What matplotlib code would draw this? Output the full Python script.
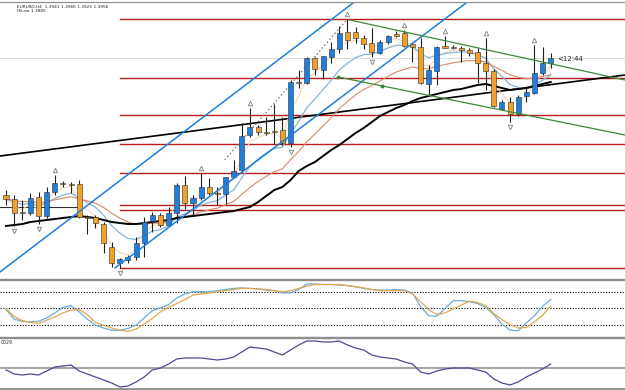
import numpy as np
import matplotlib
matplotlib.use('Agg')
import matplotlib.pyplot as plt
from matplotlib.lines import Line2D

# ---------------- data (EURUSD H4) ----------------
opens = [1.3819, 1.3815, 1.3802, 1.3801, 1.3817, 1.3798, 1.3822, 1.3831, 1.3830, 1.3830,
         1.3797, 1.3797, 1.3790, 1.3767, 1.3751, 1.3754, 1.3757, 1.3771, 1.3793, 1.3799,
         1.3789, 1.3801, 1.3829, 1.3811, 1.3816, 1.3827, 1.3821, 1.3820, 1.3837, 1.3844,
         1.3879, 1.3887, 1.3882, 1.3882, 1.3884, 1.3871, 1.3932, 1.3931, 1.3956, 1.3944,
         1.3957, 1.3965, 1.3982, 1.3982, 1.3976, 1.3971, 1.3961, 1.3972, 1.3980, 1.3981,
         1.3970, 1.3967, 1.3930, 1.3943, 1.3968, 1.3967, 1.3966, 1.3964, 1.3962, 1.3951,
         1.3943, 1.3905, 1.3912, 1.3900, 1.3918, 1.3921, 1.3941, 1.3951]
highs = [1.3824, 1.3819, 1.3814, 1.3821, 1.3822, 1.3827, 1.3839, 1.3833, 1.3832, 1.3834,
         1.3799, 1.3799, 1.3792, 1.3772, 1.3756, 1.3759, 1.3777, 1.3797, 1.3802, 1.3801,
         1.3807, 1.3831, 1.3838, 1.3819, 1.3841, 1.3836, 1.3827, 1.3837, 1.3854, 1.3891,
         1.3906, 1.3889, 1.3897, 1.3910, 1.3897, 1.3934, 1.3944, 1.3957, 1.3957, 1.3958,
         1.3972, 1.3988, 1.3995, 1.3987, 1.3979, 1.3986, 1.3974, 1.3979, 1.3983, 1.3984,
         1.3972, 1.3976, 1.3949, 1.3968, 1.3978, 1.3969, 1.3968, 1.3966, 1.3966, 1.3976,
         1.3945, 1.3914, 1.3917, 1.3919, 1.3927, 1.3969, 1.3967, 1.3961]
lows = [1.3809, 1.3788, 1.3794, 1.3799, 1.3790, 1.3796, 1.3819, 1.3827, 1.3821, 1.3796,
        1.3780, 1.3786, 1.3761, 1.3747, 1.3746, 1.3751, 1.3754, 1.3757, 1.3782, 1.3787,
        1.3788, 1.3791, 1.3805, 1.3799, 1.3814, 1.3819, 1.3809, 1.3810, 1.3836, 1.3842,
        1.3877, 1.3879, 1.3879, 1.3870, 1.3869, 1.3867, 1.3926, 1.3930, 1.3939, 1.3935,
        1.3951, 1.3961, 1.3965, 1.3971, 1.3965, 1.3957, 1.3960, 1.3970, 1.3977, 1.3967,
        1.3952, 1.3930, 1.3919, 1.3929, 1.3966, 1.3965, 1.3952, 1.3958, 1.3931, 1.3924,
        1.3907, 1.3904, 1.3892, 1.3898, 1.3912, 1.3920, 1.3939, 1.3946]
closes = [1.3815, 1.3801, 1.3801, 1.3816, 1.3798, 1.3822, 1.3831, 1.3830, 1.3829, 1.3797,
          1.3796, 1.3791, 1.3771, 1.3751, 1.3755, 1.3757, 1.3771, 1.3792, 1.3799, 1.3789,
          1.3801, 1.3829, 1.3811, 1.3816, 1.3827, 1.3821, 1.3820, 1.3837, 1.3843, 1.3878,
          1.3887, 1.3882, 1.3881, 1.3882, 1.3871, 1.3932, 1.3931, 1.3956, 1.3945, 1.3958,
          1.3965, 1.3981, 1.3974, 1.3976, 1.3970, 1.3962, 1.3972, 1.3978, 1.3978, 1.3968,
          1.3967, 1.3931, 1.3944, 1.3967, 1.3966, 1.3966, 1.3964, 1.3961, 1.3951, 1.3943,
          1.3908, 1.3912, 1.3900, 1.3917, 1.3922, 1.3941, 1.3951, 1.3956]

# slow moving average (black)
ma_slow = [1.3788, 1.3789, 1.3790, 1.3792, 1.3793, 1.3794, 1.3795, 1.3796, 1.3797, 1.3798,
           1.3797, 1.3796, 1.3794, 1.3792, 1.3791, 1.3790, 1.3790, 1.3791, 1.3792, 1.3793,
           1.3794, 1.3796, 1.3797, 1.3798, 1.3799, 1.3800, 1.3801, 1.3802, 1.3803, 1.3805,
           1.3807, 1.3812, 1.3818, 1.3824, 1.3827, 1.3834, 1.3843, 1.3848, 1.3852, 1.3858,
           1.3864, 1.3869, 1.3875, 1.3881, 1.3886, 1.3892, 1.3898, 1.3902, 1.3906, 1.3909,
           1.3913, 1.3916, 1.3918, 1.3920, 1.3922, 1.3924, 1.3925, 1.3927, 1.3929, 1.3930,
           1.3928, 1.3926, 1.3924, 1.3925, 1.3926, 1.3928, 1.3930, 1.3932]

up_fractals = [6, 24, 30, 42, 49, 54, 59, 65]
down_fractals = [1, 4, 14, 35, 45, 62]

levels = [1.3995, 1.3936, 1.3899, 1.3870, 1.3841, 1.3809, 1.3804, 1.3746]

# stochastic (%K blue, %D orange)
stoch_k = [48, 31, 27, 26, 27, 33, 42, 52, 55, 44, 31, 20, 15, 11, 11, 14, 20, 33, 46, 51,
           57, 69, 76, 80, 80, 80, 82, 84, 86, 87, 86, 85, 83, 82, 78, 78, 84, 94, 94, 93,
           93, 92, 91, 89, 86, 84, 83, 83, 84, 83, 78, 53, 37, 36, 50, 64, 64, 62, 59, 52,
           39, 22, 11, 10, 24, 37, 54, 66]
stoch_d = [50, 36, 28, 25, 23, 29, 35, 42, 47, 48, 39, 25, 20, 15, 11, 9, 13, 22, 32, 44,
           52, 59, 66, 74, 76, 78, 80, 82, 84, 86, 86, 85, 84, 82, 80, 82, 86, 90, 93, 93,
           93, 93, 91, 89, 87, 84, 82, 82, 82, 82, 76, 62, 48, 39, 42, 49, 56, 63, 61, 55,
           41, 30, 21, 15, 16, 26, 38, 54]
stoch_levels = [20, 50, 80]

# lower oscillator
osc = [-0.0002, -0.0006, -0.0007, -0.0006, -0.0007, -0.0003, 0.0001, 0.0002, 0.0003, -0.0003,
       -0.0006, -0.0009, -0.0012, -0.0015, -0.0019, -0.0018, -0.0014, -0.0009, -0.0002, 0.0000,
       0.0004, 0.0009, 0.0010, 0.0010, 0.0010, 0.0009, 0.0008, 0.0009, 0.0011, 0.0016,
       0.0021, 0.0020, 0.0019, 0.0016, 0.0013, 0.0018, 0.0023, 0.0027, 0.0027, 0.0026,
       0.0026, 0.0027, 0.0023, 0.0020, 0.0018, 0.0013, 0.0011, 0.0010, 0.0009, 0.0006,
       0.0004, -0.0004, -0.0006, -0.0003, -0.0001, 0.0000, 0.0000, 0.0000, -0.0002, -0.0004,
       -0.0011, -0.0015, -0.0017, -0.0014, -0.0009, -0.0005, -0.0001, 0.0004]

title_line1 = "EURUSD,H4  1.3941 1.3966 1.3925 1.3956"
title_line2 = "HiLow 1.3885"
timer_label = "<12:44"
osc_label = "0029"

# ---------------- figure ----------------
W, H = 625, 390
fig = plt.figure(figsize=(W / 100, H / 100), dpi=100)
fig.patch.set_facecolor('white')


def ax_at(top_px, bot_px):
    a = fig.add_axes([0, 1 - bot_px / H, 1, (bot_px - top_px) / H])
    a.set_axis_off()
    return a


ax = ax_at(3, 279)
ax_st = ax_at(281, 337)
ax_lo = ax_at(338, 389)

n = len(closes)
idx = np.arange(n)
xl = (-0.74, 76.14)
for a in (ax, ax_st, ax_lo):
    a.set_xlim(*xl)

ax.set_ylim(1.3735, 1.4011)
ax_st.set_ylim(-1.2, 99.3)
ax_lo.set_ylim(-0.0021, 0.0030)

o = np.array(opens); h = np.array(highs); l = np.array(lows); c = np.array(closes)


def ema(vals, period):
    k = 2 / (period + 1)
    out = [vals[0]]
    for v in vals[1:]:
        out.append(out[-1] + k * (v - out[-1]))
    return np.array(out)


# horizontal levels (dark red)
for lv in levels:
    ax.plot([14, xl[1]], [lv, lv], color='#b81c1c', lw=1.0, zorder=1)
# short dark line on the left
ax.plot([xl[0], 9.1], [1.3807, 1.3807], color='#303030', lw=0.8, zorder=1)
# bid line
ax.axhline(closes[-1], color='#dcdcdc', lw=0.7, zorder=0.5)

# trend line (black)
ax.plot([xl[0], xl[1]], [1.3858, 1.3939], color='black', lw=1.2, zorder=2)
# blue channel
ax.plot([-0.74, 43.17], [1.3742, 1.4014], color='#1f7fd8', lw=1.1, zorder=4)
ax.plot([13.4, 57.07], [1.3746, 1.4014], color='#1f7fd8', lw=1.1, zorder=4)
# green channel
ax.plot([42.3, 76.14], [1.3994, 1.3934], color='#3a8a3a', lw=0.9, zorder=4)
ax.plot([40.84, 76.14], [1.3937, 1.3879], color='#3a8a3a', lw=0.9, zorder=4)
ax.plot([40.84, 46.3], [1.3937, 1.3928], 'o', ms=1.8, color='#3a8a3a', zorder=4)
# dotted line
ax.plot([26.9, 41.9], [1.3854, 1.3994], color='#707070', lw=0.8, ls=(0, (1.5, 2)), zorder=2)

# moving averages
ax.plot(idx, ema(c, 3), color='#f5d2b0', lw=0.7, zorder=2)
ax.plot(idx, ema(c, 8), color='#85b6d8', lw=0.9, zorder=2)
ax.plot(idx, ema(c, 18), color='#d9886a', lw=0.8, zorder=2)
ax.plot(idx, ma_slow, color='black', lw=1.4, zorder=2)

# candles
for i in range(n):
    ax.vlines(i, l[i], h[i], color='#202020', lw=0.8, zorder=3)
    bot = min(o[i], c[i])
    ht = max(abs(c[i] - o[i]), 0.00012)
    col = '#1e7fe0' if c[i] > o[i] else '#f4a028'
    ax.bar(i, ht, bottom=bot, width=0.62, color=col, edgecolor='#303030', lw=0.4, zorder=3.5)

# fractals
ax.plot(up_fractals, h[up_fractals] + 0.0005, ls='none', marker='^', ms=3.2,
        mfc='none', mec='#8c8c8c', mew=0.7, zorder=5)
ax.plot(down_fractals, l[down_fractals] - 0.0005, ls='none', marker='v', ms=3.2,
        mfc='none', mec='#8c8c8c', mew=0.7, zorder=5)

ax.text(n - 1 + 0.75, closes[-1] - 0.0001, timer_label, fontsize=5, color='#202020',
        va='center', ha='left', zorder=6)

# titles
fig.text(17 / W, 1 - 7 / H, title_line1, fontsize=3.1, color='#202020', va='center', ha='left')
fig.text(17 / W, 1 - 11.5 / H, title_line2, fontsize=3.1, color='#202020', va='center', ha='left')

# stochastic
for lv in stoch_levels:
    ax_st.axhline(lv, color='black', lw=0.8, ls=(0, (1, 1.5)))
ax_st.plot(idx, stoch_k, color='#6aaed6', lw=0.9)
ax_st.plot(idx, stoch_d, color='#e0a850', lw=0.9)

# lower oscillator
ax_lo.axhline(0, color='#a8a8a8', lw=1.5)
ax_lo.plot(idx, osc, color='#4a4a96', lw=0.9)
fig.text(1 / W, 1 - 342 / H, osc_label, fontsize=3.4, color='#303030', va='center', ha='left')

# panel separators
for ypx, lw in [(1.5, 1.2), (280, 2.4), (337.5, 2.4), (389.2, 1.8)]:
    fig.add_artist(Line2D([0, 1], [1 - ypx / H, 1 - ypx / H], color='#8c8c8c', lw=lw * 0.72))

fig.savefig('out.png', dpi=100, facecolor='white')
